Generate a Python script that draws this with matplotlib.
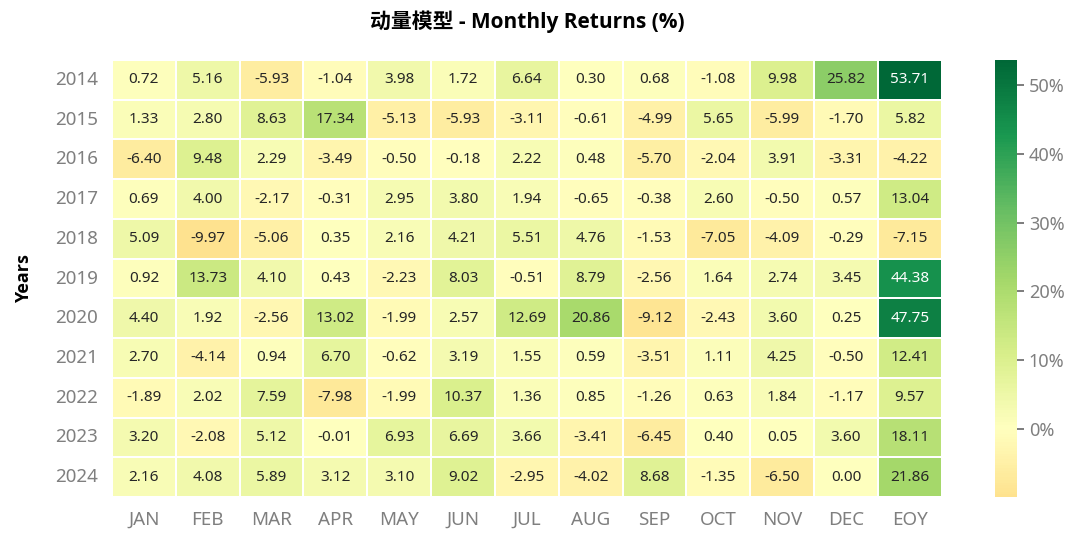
import numpy as np
import pandas as pd
import matplotlib
matplotlib.use('Agg')
import matplotlib.pyplot as plt
import seaborn as sns
from matplotlib.ticker import FuncFormatter

plt.rcParams['font.family'] = ['Noto Sans', 'Noto Sans CJK SC', 'DejaVu Sans']

years = [2014, 2015, 2016, 2017, 2018, 2019, 2020, 2021, 2022, 2023, 2024]
months = ['JAN', 'FEB', 'MAR', 'APR', 'MAY', 'JUN', 'JUL', 'AUG', 'SEP', 'OCT', 'NOV', 'DEC', 'EOY']

r2014 = [0.72, 5.16, -5.93, -1.04, 3.98, 1.72, 6.64, 0.30, 0.68, -1.08, 9.98, 25.82, 53.71]
r2015 = [1.33, 2.80, 8.63, 17.34, -5.13, -5.93, -3.11, -0.61, -4.99, 5.65, -5.99, -1.70, 5.82]
r2016 = [-6.40, 9.48, 2.29, -3.49, -0.50, -0.18, 2.22, 0.48, -5.70, -2.04, 3.91, -3.31, -4.22]
r2017 = [0.69, 4.00, -2.17, -0.31, 2.95, 3.80, 1.94, -0.65, -0.38, 2.60, -0.50, 0.57, 13.04]
r2018 = [5.09, -9.97, -5.06, 0.35, 2.16, 4.21, 5.51, 4.76, -1.53, -7.05, -4.09, -0.29, -7.15]
r2019 = [0.92, 13.73, 4.10, 0.43, -2.23, 8.03, -0.51, 8.79, -2.56, 1.64, 2.74, 3.45, 44.38]
r2020 = [4.40, 1.92, -2.56, 13.02, -1.99, 2.57, 12.69, 20.86, -9.12, -2.43, 3.60, 0.25, 47.75]
r2021 = [2.70, -4.14, 0.94, 6.70, -0.62, 3.19, 1.55, 0.59, -3.51, 1.11, 4.25, -0.50, 12.41]
r2022 = [-1.89, 2.02, 7.59, -7.98, -1.99, 10.37, 1.36, 0.85, -1.26, 0.63, 1.84, -1.17, 9.57]
r2023 = [3.20, -2.08, 5.12, -0.01, 6.93, 6.69, 3.66, -3.41, -6.45, 0.40, 0.05, 3.60, 18.11]
r2024 = [2.16, 4.08, 5.89, 3.12, 3.10, 9.02, -2.95, -4.02, 8.68, -1.35, -6.50, 0.00, 21.86]

df = pd.DataFrame([r2014, r2015, r2016, r2017, r2018, r2019, r2020, r2021, r2022,
                   r2023, r2024], index=years, columns=months)

fig = plt.figure(figsize=(10.8, 5.43), dpi=100)
ax = fig.add_axes([0.1037, 0.0847, 0.7683, 0.8048])
cax = fig.add_axes([0.9213, 0.0847, 0.0204, 0.8048])

sns.heatmap(df, ax=ax, cbar_ax=cax, cmap='RdYlGn', center=0, annot=True, fmt='.2f',
            linewidths=1.2, linecolor='white', annot_kws={'fontsize': 11},
            cbar_kws={'format': FuncFormatter(lambda v, p: '%d%%' % v)})

bold_fam = ['Open Sans', 'Noto Sans CJK SC', 'DejaVu Sans']
ax.set_title('动量模型 - Monthly Returns (%)', fontsize=15, fontweight='bold',
             family=bold_fam, pad=23)
ax.set_ylabel('Years', fontsize=13, fontweight='bold', family=bold_fam, labelpad=16)
ax.set_xlabel('')
ax.tick_params(axis='both', length=0, colors='#7f7f7f', labelsize=13.5, pad=10)
ax.set_yticklabels(years, rotation=0)
ax.set_xticklabels(months, rotation=0)

cax.tick_params(labelsize=13, colors='#666666', length=5, width=1.2)
cax.set_yticks([0, 10, 20, 30, 40, 50])
for lab in cax.get_yticklabels():
    lab.set_color('#7f7f7f')

plt.savefig('out.png', dpi=100)
